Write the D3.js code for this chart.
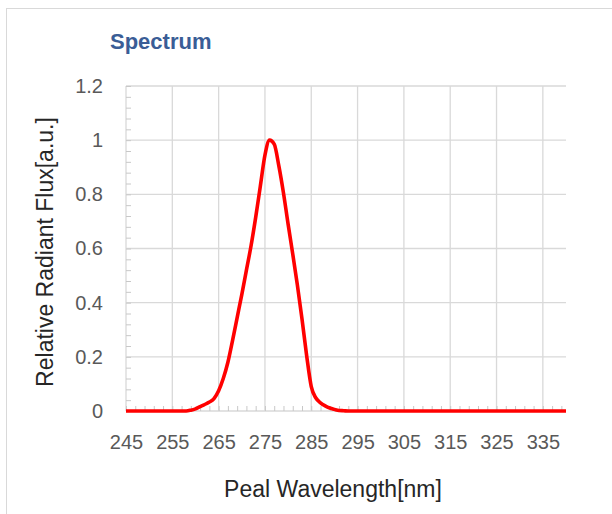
<!DOCTYPE html>
<html>
<head>
<meta charset="utf-8">
<script src="https://cdn.jsdelivr.net/npm/d3@7"></script>
<style>
  body { margin: 0; background: #fff; }
  svg text { font-family: "Liberation Sans", Arial, sans-serif; }
</style>
</head>
<body>
<div class="chartDiv"></div>
<script>
(function(){
  // data
  var wavelength = [245, 250, 255, 258, 259, 260, 261, 262, 263, 264, 265, 266, 267, 268, 269, 270,
                    271, 272, 273, 274, 275, 276, 277, 278, 279, 280, 281, 282, 283, 284, 285, 286,
                    287, 288, 289, 290, 291, 292, 293, 300, 310, 320, 330, 340];
  var flux       = [0, 0, 0, 0, 0.003, 0.008, 0.016, 0.024, 0.033, 0.046, 0.075, 0.12, 0.18, 0.26, 0.345, 0.43,
                    0.52, 0.61, 0.715, 0.83, 0.945, 1.0, 0.985, 0.905, 0.805, 0.69, 0.58, 0.465, 0.34, 0.205, 0.09, 0.048,
                    0.03, 0.019, 0.011, 0.006, 0.002, 0.001, 0, 0, 0, 0, 0, 0];
  var xTicks     = [245, 255, 265, 275, 285, 295, 305, 315, 325, 335];
  var yTicks     = [0, 0.2, 0.4, 0.6, 0.8, 1, 1.2];

  var width  = 612,
      height = 514,
      margin = {top: 86, right: 46, bottom: 103, left: 126};

  var svg = d3.select(".chartDiv")
              .append("svg")
              .attr("width", width)
              .attr("height", height);

  // outer frame
  svg.append("rect").attr("x", 6.5).attr("y", 8.5)
     .attr("width", width).attr("height", height)
     .attr("fill", "none").attr("stroke", "#d9d9d9");

  var x = d3.scaleLinear().domain([245, 340]).range([margin.left, width - margin.right]);
  var y = d3.scaleLinear().domain([0, 1.2]).range([height - margin.bottom, margin.top]);

  // grid
  svg.append("g").selectAll("line").data(yTicks).enter().append("line")
     .attr("x1", x(245)).attr("x2", x(340))
     .attr("y1", function(d){ return y(d); }).attr("y2", function(d){ return y(d); })
     .attr("stroke", "#d9d9d9").attr("stroke-width", 1.3);
  svg.append("g").selectAll("line").data(xTicks).enter().append("line")
     .attr("x1", function(d){ return x(d); }).attr("x2", function(d){ return x(d); })
     .attr("y1", y(0)).attr("y2", y(1.2))
     .attr("stroke", "#d9d9d9").attr("stroke-width", 1.3);

  // minor ticks inside the plot
  var yMinor = d3.axisRight(y).tickValues(d3.range(0, 1.2001, 0.04)).tickSize(5).tickFormat("");
  var gy = svg.append("g").attr("transform", "translate(" + x(245) + ",0)").call(yMinor);
  gy.select(".domain").remove();
  gy.selectAll("line").attr("stroke", "#c8c8c8");

  var xMinor = d3.axisTop(x).tickValues(d3.range(245, 340.001, 2)).tickSize(5).tickFormat("");
  var gx = svg.append("g").attr("transform", "translate(0," + y(0) + ")").call(xMinor);
  gx.select(".domain").remove();
  gx.selectAll("line").attr("stroke", "#c8c8c8");

  // tick labels
  var yAxis = d3.axisLeft(y).tickValues(yTicks).tickSize(0).tickPadding(23)
                .tickFormat(function(d){ return d3.format("")(+d.toFixed(1)); });
  var ya = svg.append("g").attr("transform", "translate(" + x(245) + ",0)").call(yAxis);
  ya.select(".domain").remove();
  ya.selectAll("text").attr("fill", "#595959").style("font-size", "20px")
    .style("font-family", "'Liberation Sans', Arial, sans-serif");

  var xAxis = d3.axisBottom(x).tickValues(xTicks).tickSize(0).tickPadding(24);
  var xa = svg.append("g").attr("transform", "translate(0," + y(0) + ")").call(xAxis);
  xa.select(".domain").remove();
  xa.selectAll("text").attr("fill", "#595959").style("font-size", "20px")
    .style("font-family", "'Liberation Sans', Arial, sans-serif");

  // curve
  var line = d3.line()
               .x(function(d, i){ return x(wavelength[i]); })
               .y(function(d){ return y(d); })
               .curve(d3.curveMonotoneX);
  svg.append("path").datum(flux)
     .attr("d", line).attr("fill", "none")
     .attr("stroke", "#ff0000").attr("stroke-width", 3.6)
     .attr("stroke-linejoin", "round");

  // titles
  svg.append("text").attr("x", 110).attr("y", 49)
     .attr("fill", "#3a5d96").style("font-size", "22px").style("font-weight", "bold")
     .text("Spectrum");

  svg.append("text").attr("transform", "translate(53,252) rotate(-90)")
     .attr("text-anchor", "middle").attr("fill", "#262626").style("font-size", "23px")
     .text("Relative Radiant Flux[a.u.]");

  svg.append("text").attr("x", 333).attr("y", 497)
     .attr("text-anchor", "middle").attr("fill", "#262626").style("font-size", "23px")
     .text("Peal Wavelength[nm]");
})()
</script>
</body>
</html>
